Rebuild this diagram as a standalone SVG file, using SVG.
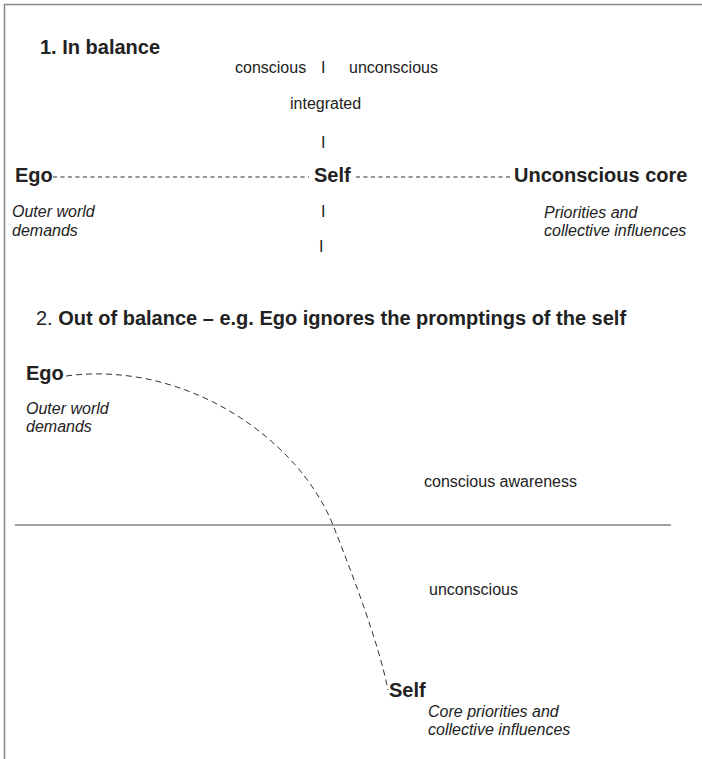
<svg xmlns="http://www.w3.org/2000/svg" width="702" height="759" viewBox="0 0 702 759">
<style>
text{font-family:"Liberation Sans",Arial,Helvetica,sans-serif;fill:#222}
.h{font-size:20px;font-weight:bold}
.n{font-size:16px}
.i{font-size:16px;font-style:italic}
.dash1{fill:none;stroke:#333;stroke-width:1;stroke-dasharray:4 3.5}
.dash2{fill:none;stroke:#333;stroke-width:1;stroke-dasharray:6 4}
</style>
<rect width="702" height="759" fill="#fff"/>
<g id="border"><path d="M4.5 759 V4.5 H702" fill="none" stroke="#888" stroke-width="1.5"/></g>
<g id="section1">
<text class="h" x="40" y="54">1. In balance</text>
<text class="n" x="235" y="73">conscious</text>
<text class="n" x="321" y="73">I</text>
<text class="n" x="349" y="73">unconscious</text>
<text class="n" x="290" y="109">integrated</text>
<text class="n" x="321" y="148">I</text>
<text class="n" x="321" y="217">I</text>
<text class="n" x="319" y="252">I</text>
</g>
<g id="ego1"><text class="h" x="15" y="182">Ego</text>
<text class="i" x="12" y="217">Outer world</text>
<text class="i" x="12" y="236">demands</text></g>
<g id="self1"><text class="h" x="314" y="182">Self</text></g>
<g id="core1"><text class="h" x="514" y="182">Unconscious core</text>
<text class="i" x="544" y="218">Priorities and</text>
<text class="i" x="544" y="236">collective influences</text></g>
<g id="section2">
<text class="h" x="36" y="325"><tspan font-weight="normal">2. </tspan>Out of balance – e.g. Ego ignores the promptings of the self</text>
<text class="n" x="424" y="487">conscious awareness</text>
<text class="n" x="429" y="595">unconscious</text>
<line x1="15" y1="525" x2="671" y2="525" stroke="#444" stroke-width="1.2"/>
</g>
<g id="ego2"><text class="h" x="26" y="380">Ego</text>
<text class="i" x="26" y="414">Outer world</text>
<text class="i" x="26" y="432">demands</text></g>
<g id="self2"><text class="h" x="389" y="697">Self</text>
<text class="i" x="428" y="717">Core priorities and</text>
<text class="i" x="428" y="735">collective influences</text></g>
<g id="connectors">
<line class="dash1" x1="53" y1="177" x2="309" y2="177"/>
<line class="dash1" x1="356" y1="177" x2="510" y2="177"/>
<path class="dash2" d="M66 376 C185 360 298 438 333 525 C351 571 378 640 388 690"/>
</g>
</svg>
